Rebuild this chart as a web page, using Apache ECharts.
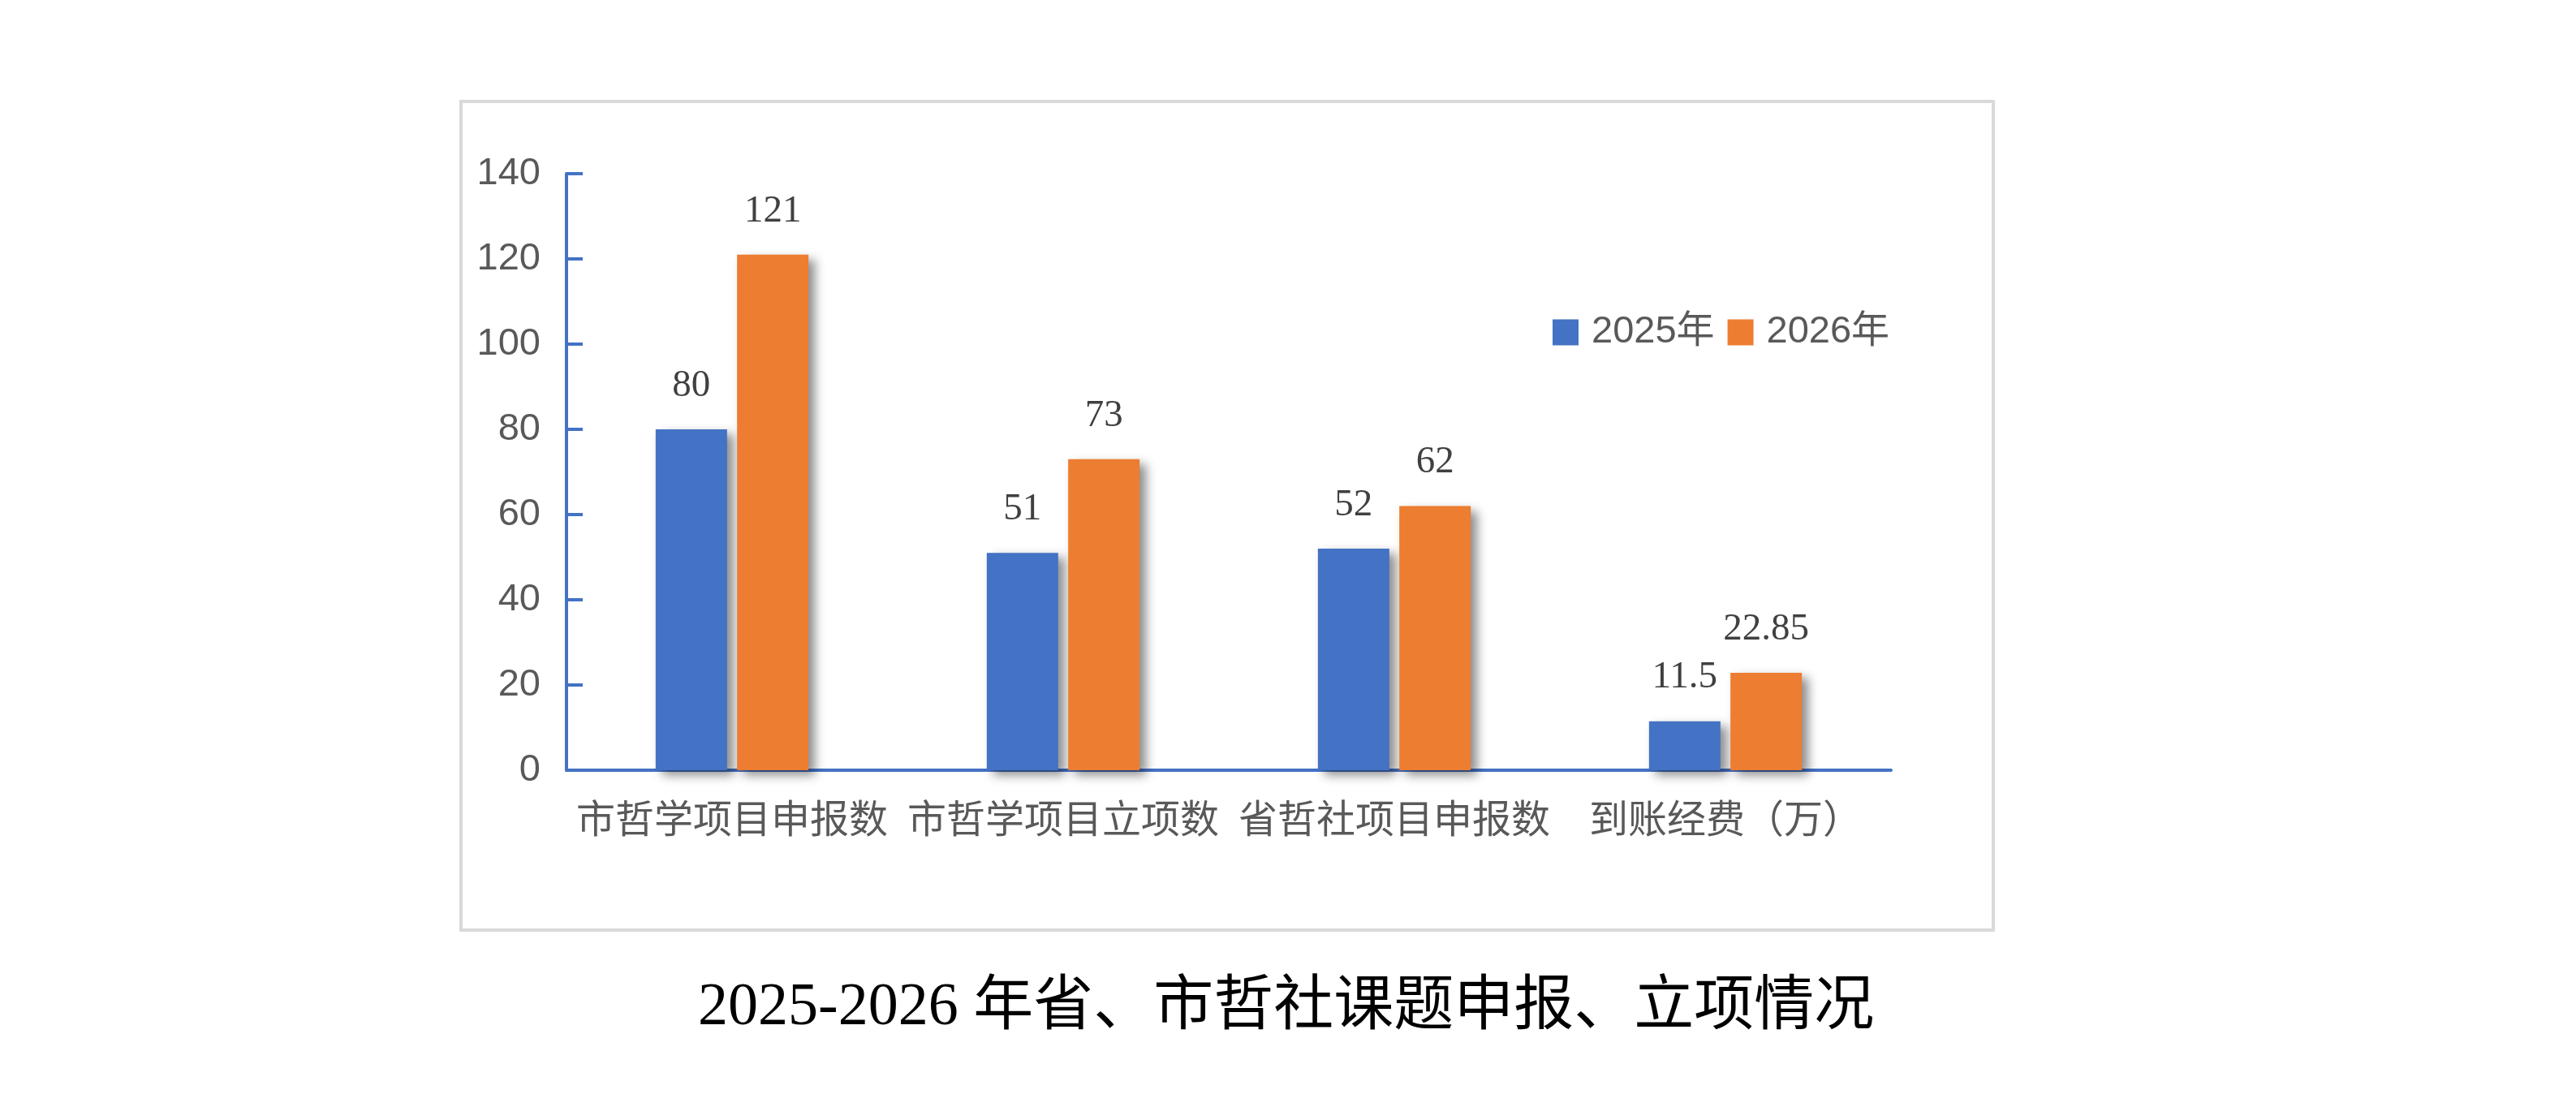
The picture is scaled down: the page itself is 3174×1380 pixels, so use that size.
<!DOCTYPE html>
<html>
<head>
<meta charset="utf-8">
<script src="https://cdn.jsdelivr.net/npm/echarts@6/dist/echarts.min.js"></script>
<style>
html,body{margin:0;padding:0;background:#fff;}
#chart{width:3174px;height:1380px;}
</style>
</head>
<body>
<div id="chart"></div>
<script>
const categories = ['市哲学项目申报数', '市哲学项目立项数', '省哲社项目申报数', '到账经费（万）'];
const seriesNames = ['2025年', '2026年'];
const values2025 = [80, 51, 52, 11.5];
const values2026 = [121, 73, 62, 22.85];
const yTicks = { min: 0, max: 140, interval: 20 };
const titleText = '2025-2026 年省、市哲社课题申报、立项情况';

const BLUE = '#4472C4', ORANGE = '#ED7D31', GRAY = '#595959';
const sansFont = '"Liberation Sans", "Noto Sans CJK SC", sans-serif';
const cjkFont = '"Noto Sans CJK SC", "Liberation Sans", sans-serif';
const serifFont = '"Liberation Serif", "Noto Sans CJK SC", serif';

const chart = echarts.init(document.getElementById('chart'));

function barSeries(name, data, color) {
  return {
    name: name,
    type: 'bar',
    data: data,
    barWidth: 88,
    barGap: '14%',
    itemStyle: {
      color: color,
      shadowColor: 'rgba(0,0,0,0.45)',
      shadowBlur: 12,
      shadowOffsetX: 8,
      shadowOffsetY: 6
    },
    label: {
      show: true,
      position: 'top',
      distance: 30,
      color: '#404040',
      fontFamily: serifFont,
      fontSize: 47
    }
  };
}

chart.setOption({
  backgroundColor: '#ffffff',
  animation: false,
  title: {
    text: titleText,
    left: 855,
    top: 1200,
    textStyle: {
      color: '#000',
      fontFamily: serifFont,
      fontSize: 74,
      fontWeight: 'normal',
      lineHeight: 76
    }
  },
  graphic: [{
    type: 'rect',
    shape: { x: 568, y: 125, width: 1888, height: 1021 },
    style: { fill: 'none', stroke: '#d9d9d9', lineWidth: 4 },
    silent: true,
    z: -1
  }],
  legend: {
    data: seriesNames,
    left: 1908,
    top: 381,
    itemWidth: 32,
    itemHeight: 32,
    itemGap: 16,
    icon: 'rect',
    textStyle: {
      color: GRAY,
      fontFamily: sansFont,
      fontSize: 47,
      padding: [0, 0, 0, 11]
    }
  },
  grid: {
    left: 698,
    right: 844,
    top: 214,
    bottom: 431,
    containLabel: false
  },
  xAxis: {
    type: 'category',
    data: categories,
    axisLine: { show: true, lineStyle: { color: BLUE, width: 4 } },
    axisTick: { show: false },
    axisLabel: {
      interval: 0,
      margin: 35,
      color: GRAY,
      fontFamily: cjkFont,
      fontSize: 48
    },
    splitLine: { show: false }
  },
  yAxis: {
    type: 'value',
    min: yTicks.min,
    max: yTicks.max,
    interval: yTicks.interval,
    axisLine: { show: true, lineStyle: { color: BLUE, width: 4 } },
    axisTick: { show: true, inside: true, length: 20, lineStyle: { color: BLUE, width: 4 } },
    axisLabel: {
      margin: 32,
      color: GRAY,
      fontFamily: sansFont,
      fontSize: 47
    },
    splitLine: { show: false }
  },
  series: [
    barSeries(seriesNames[0], values2025, BLUE),
    barSeries(seriesNames[1], values2026, ORANGE)
  ]
});
</script>
</body>
</html>
